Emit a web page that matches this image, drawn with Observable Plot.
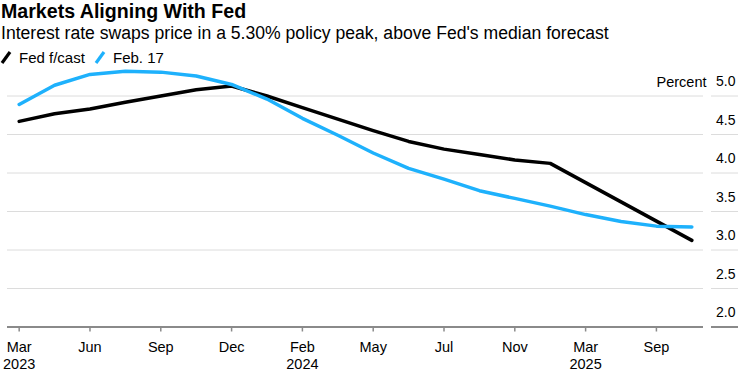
<!DOCTYPE html>
<html><head><meta charset="utf-8">
<script src="https://cdn.jsdelivr.net/npm/d3@7"></script>
<script src="https://cdn.jsdelivr.net/npm/@observablehq/plot@0.6"></script>
<style>
body{margin:0;background:#fff;font-family:"Liberation Sans",Arial,sans-serif;color:#000;}
#wrap{position:relative;width:738px;height:373px;overflow:hidden;}
.title{position:absolute;left:1px;top:0px;font-size:19.6px;font-weight:bold;line-height:22px;white-space:nowrap;}
.sub{position:absolute;left:1px;top:23px;font-size:17.6px;line-height:20px;white-space:nowrap;}
.leg{position:absolute;top:49px;font-size:15px;line-height:18px;white-space:nowrap;}
.icon{position:absolute;top:50px;}
#chart{position:absolute;left:0;top:66px;}
</style></head>
<body><div id="wrap">
<div class="title">Markets Aligning With Fed</div>
<div class="sub">Interest rate swaps price in a 5.30% policy peak, above Fed's median forecast</div>
<svg class="icon" style="left:0px" width="12" height="15"><line x1="2" y1="13" x2="10" y2="2" stroke="#000" stroke-width="3.2"/></svg>
<div class="leg" style="left:19px">Fed f/cast</div>
<svg class="icon" style="left:94px" width="12" height="15"><line x1="2" y1="13" x2="10" y2="2" stroke="#1eb1fc" stroke-width="3.2"/></svg>
<div class="leg" style="left:113px">Feb. 17</div>
<div id="chart"></div>
</div>
<script>
const categories = ["Mar 2023","May 2023","Jun 2023","Jul 2023","Sep 2023","Nov 2023","Dec 2023","Jan 2024","Feb 2024","Apr 2024","May 2024","Jun 2024","Jul 2024","Sep 2024","Nov 2024","Dec 2024","Mar 2025","Jun 2025","Sep 2025","Dec 2025"];
const fedForecast = [4.67,4.77,4.83,4.92,5.00,5.08,5.13,5.00,4.85,4.70,4.55,4.41,4.31,4.24,4.17,4.125,3.875,3.625,3.375,3.125];
const feb17 = [4.89,5.14,5.28,5.32,5.31,5.26,5.15,4.96,4.71,4.49,4.26,4.06,3.92,3.77,3.67,3.57,3.46,3.37,3.31,3.30];
const tickKeys = categories.filter((d, i) => i % 2 === 0);
const tickLabels = ["Mar\n2023","Jun","Sep","Dec","Feb\n2024","May","Jul","Nov","Mar\n2025","Sep"];
const yTicks = [2, 2.5, 3, 3.5, 4, 4.5, 5];
const unitLabel = "Percent";

const rows = categories.map((c, i) => ({date: c, fed: fedForecast[i], swaps: feb17[i]}));
const font = '"Liberation Sans", Arial, sans-serif';

const chart = Plot.plot({
  width: 738, height: 307,
  marginTop: 29.5, marginBottom: 46.5, marginLeft: 7, marginRight: 35,
  style: {fontFamily: font, fontSize: "14.5px", background: "transparent", overflow: "visible", color: "#000"},
  x: {type: "point", domain: categories, padding: 0.33, round: false},
  y: {domain: [2, 5]},
  marks: [
    Plot.ruleY(yTicks.slice(1), {stroke: "#dcdcdc", strokeWidth: 1}),
    Plot.axisY(yTicks.slice(1), {anchor: "right", tickSize: 28, dx: 7, stroke: "#dcdcdc", strokeWidth: 1, fill: "none", label: null}),
    Plot.axisY([2], {anchor: "right", tickSize: 28, dx: 7, stroke: "#8a8a8a", strokeWidth: 2, fill: "none", label: null}),
    Plot.axisY(yTicks, {anchor: "right", tickSize: 0, tickPadding: 32, textAnchor: "end", dy: -14, fill: "#000", fontSize: 14, tickFormat: d => d.toFixed(1), label: null}),
    Plot.text([unitLabel], {y: () => 5, text: d => d, frameAnchor: "right", textAnchor: "end", dx: 3, dy: -14, fontSize: 14.5, fill: "#000"}),
    Plot.ruleY([2], {stroke: "#8a8a8a", strokeWidth: 2}),
    Plot.axisX(tickKeys, {tickSize: 5, tickPadding: 8, stroke: "#8a8a8a", strokeWidth: 1.5, fill: "#000", fontSize: 14.5, lineHeight: 1.18, tickFormat: k => tickLabels[tickKeys.indexOf(k)], label: null}),
    Plot.line(rows, {x: "date", y: "fed", stroke: "#000", strokeWidth: 3.5}),
    Plot.line(rows, {x: "date", y: "swaps", stroke: "#1eb1fc", strokeWidth: 3.5})
  ]
});
document.getElementById("chart").appendChild(chart);
</script>
</body></html>
